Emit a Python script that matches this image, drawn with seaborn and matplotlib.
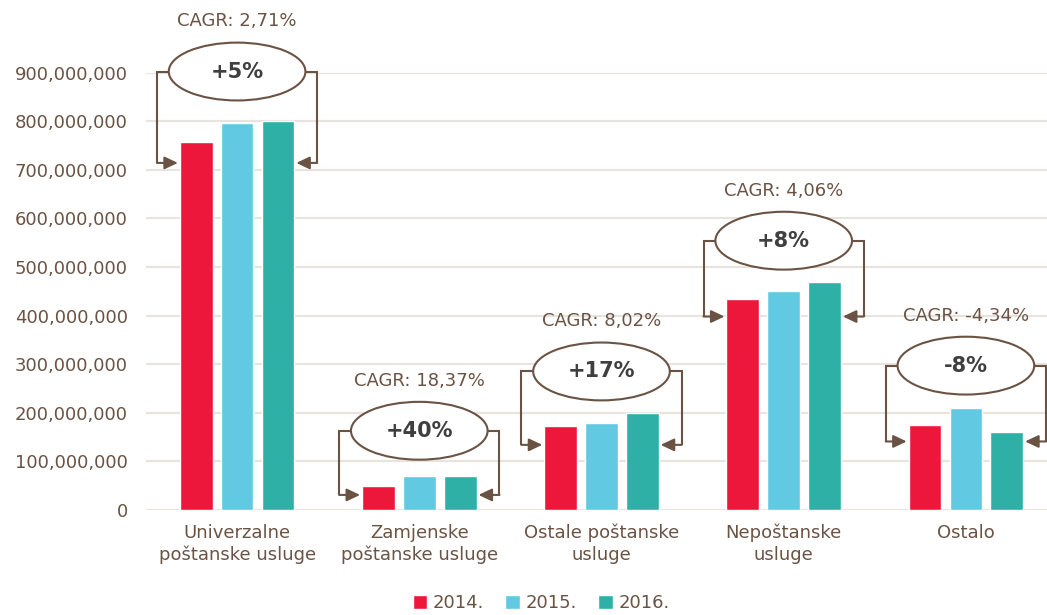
import matplotlib
matplotlib.use("Agg")
import matplotlib.pyplot as plt
from matplotlib.patches import Ellipse
import seaborn as sns
import pandas as pd

# ---- data ----
categories = ["Univerzalne\npoštanske usluge", "Zamjenske\npoštanske usluge",
              "Ostale poštanske\nusluge", "Nepoštanske\nusluge", "Ostalo"]
years = ["2014.", "2015.", "2016."]
v2014 = [758e6, 50e6, 172e6, 434e6, 175e6]
v2015 = [797e6, 69e6, 180e6, 450e6, 209e6]
v2016 = [800e6, 70e6, 200e6, 470e6, 161e6]
changes = ["+5%", "+40%", "+17%", "+8%", "-8%"]
cagr = ["CAGR: 2,71%", "CAGR: 18,37%", "CAGR: 8,02%", "CAGR: 4,06%", "CAGR: -4,34%"]
yticks = [0, 100e6, 200e6, 300e6, 400e6, 500e6, 600e6, 700e6, 800e6, 900e6]

# ---- annotation layout (data units) ----
ellipse_y = [902e6, 163e6, 285e6, 554e6, 297e6]
arrow_y = [714e6, 31e6, 134e6, 398e6, 141e6]

colors = ["#ED173B", "#62C9E2", "#2EB0A6"]
brown = "#6B5344"
grid_c = "#E9E3DD"

df = pd.DataFrame({
    "cat": categories * 3,
    "year": [years[0]] * 5 + [years[1]] * 5 + [years[2]] * 5,
    "val": v2014 + v2015 + v2016,
})

sns.set_theme(style="white")
plt.rcParams["font.family"] = ["DejaVu Sans"]

fig = plt.figure(figsize=(10.47, 6.15), dpi=100)
ax = fig.add_axes([146 / 1047, 105 / 615, 911 / 1047, 437.5 / 615])

sns.barplot(data=df, x="cat", y="val", hue="year", palette=colors,
            width=0.675, gap=0.2, saturation=1, ax=ax, legend=True, zorder=3)

ax.set_xlim(-0.5, 4.5)
ax.set_ylim(0, 900e6)
ax.set_yticks(yticks)
ax.set_yticklabels([f"{int(t):,}" for t in yticks])
ax.yaxis.grid(True, color=grid_c, linewidth=1.5, zorder=0)
ax.set_axisbelow(True)
for s in ax.spines.values():
    s.set_visible(False)
ax.tick_params(axis="y", length=0, pad=13, labelsize=13, labelcolor=brown)
ax.tick_params(axis="x", length=0, pad=10, labelsize=13, labelcolor=brown)
for lbl in ax.get_xticklabels():
    lbl.set_linespacing(1.25)
ax.set_xlabel("")
ax.set_ylabel("")

# annotations
ew, eh = 0.75, 119e6
vx, tipx = 0.44, 0.325
for i in range(len(categories)):
    ey = ellipse_y[i]
    ay = arrow_y[i]
    e = Ellipse((i, ey), ew, eh, facecolor="white", edgecolor=brown,
                linewidth=1.5, zorder=6, clip_on=False)
    ax.add_patch(e)
    for sgn in (-1, 1):
        ax.plot([i + sgn * ew / 2, i + sgn * vx, i + sgn * vx],
                [ey, ey, ay], color=brown, linewidth=1.5, zorder=5,
                clip_on=False, solid_capstyle="butt", solid_joinstyle="miter")
        ax.annotate("", xy=(i + sgn * tipx, ay), xytext=(i + sgn * vx, ay),
                    arrowprops=dict(arrowstyle="-|>,head_length=0.8,head_width=0.38",
                                    mutation_scale=10,
                                    color=brown, lw=1.5, shrinkA=0, shrinkB=0),
                    zorder=5, annotation_clip=False)
    ax.text(i, ey, changes[i], ha="center", va="center", fontsize=15,
            fontweight="bold", color="#3F3F3F", zorder=7)
    ax.text(i, ey + 103e6, cagr[i], ha="center", va="center", fontsize=13,
            color=brown, zorder=7, clip_on=False)

# legend
handles, labels = ax.get_legend_handles_labels()
ax.get_legend().remove()
leg = fig.legend(handles, labels, loc="center", bbox_to_anchor=(541 / 1047, 12 / 615),
                 ncol=3, frameon=False, fontsize=13, handlelength=0.8, handleheight=0.8,
                 handletextpad=0.3, columnspacing=1.2, labelcolor=brown)

fig.savefig("out.png", dpi=100)
